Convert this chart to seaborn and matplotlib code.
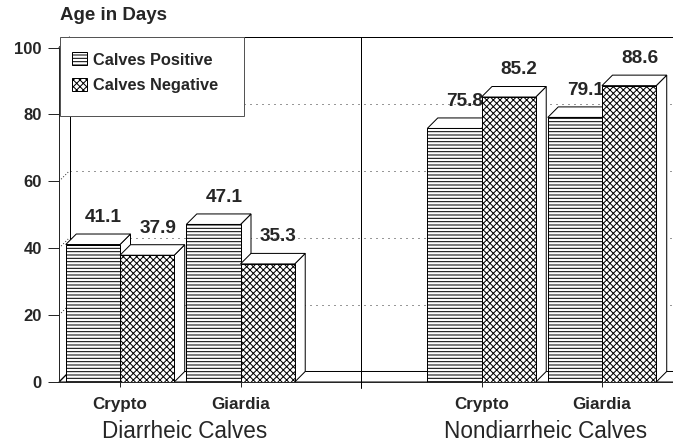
import pandas as pd
import matplotlib
matplotlib.use('Agg')
import matplotlib.pyplot as plt
from matplotlib.patches import Polygon, Patch, Rectangle
import seaborn as sns

# DATA
grupos = ['Diarrheic Calves', 'Nondiarrheic Calves']
parasitas = ['Crypto', 'Giardia']
series = ['Calves Positive', 'Calves Negative']
calves_positive = [41.1, 47.1, 75.8, 79.1]
calves_negative = [37.9, 35.3, 85.2, 88.6]
yticks = [0, 20, 40, 60, 80, 100]

# PIXEL GEOMETRY (dpi 80 keeps the hatch density close to the original)
DPI = 80
W, H = 673, 445


def pt(px):
    return px * 72 / DPI


sns.set_style('white')
plt.rcParams['font.family'] = ['Liberation Sans', 'DejaVu Sans']
plt.rcParams['hatch.linewidth'] = pt(1.0)

rows = []
for i, g in enumerate(grupos):
    for j, p in enumerate(parasitas):
        k = i * 2 + j
        rows.append({'cat': f'{g} {p}', 'serie': series[0], 'idade': calves_positive[k]})
        rows.append({'cat': f'{g} {p}', 'serie': series[1], 'idade': calves_negative[k]})
df = pd.DataFrame(rows)
ordem = [f'{grupos[0]} {p}' for p in parasitas] + [' '] + [f'{grupos[1]} {p}' for p in parasitas]

fig = plt.figure(figsize=(W / DPI, H / DPI), dpi=DPI)
ax = fig.add_axes([59 / W, 63 / H, 614 / W, 345 / H])

sns.barplot(data=df, x='cat', y='idade', hue='serie', order=ordem, hue_order=series,
            palette=['white', 'white'], saturation=1, width=0.9, edgecolor='black',
            linewidth=pt(1), errorbar=None, legend=False, ax=ax)

# AXIS LIMITS
xmin = (59 - 120) / 120.5
xmax = (673 - 120) / 120.5
ppx = 120.5
ppy = 3.34
DX = 10.5 / ppx
DY = 10.5 / ppy
ax.set_xlim(xmin, xmax)
ax.set_ylim(0, 100 + DY)

# 3D BARS
hatches = ['----', 'xxxx']
bars = []
for cont, h in zip(ax.containers, hatches):
    for b in cont:
        b.set_hatch(h)
        bars.append(b)
bars.sort(key=lambda b: b.get_x())

for n, b in enumerate(bars):
    x0, w, h = b.get_x(), b.get_width(), b.get_height()
    z = 3 + n * 0.1
    side = Polygon([(x0 + w, 0), (x0 + w + DX, DY), (x0 + w + DX, h + DY), (x0 + w, h)],
                   closed=True, fc='white', ec='black', lw=pt(1), zorder=z)
    top = Polygon([(x0, h), (x0 + w, h), (x0 + w + DX, h + DY), (x0 + DX, h + DY)],
                  closed=True, fc='white', ec='black', lw=pt(1), zorder=z + 0.01)
    ax.add_patch(side)
    ax.add_patch(top)
    b.set_zorder(z + 0.02)
    ax.text(x0 + w / 2 + DX, h + DY + 8 / ppy, f'{h:.1f}', ha='center', va='bottom',
            fontsize=pt(19), fontweight='bold', zorder=z + 0.05, clip_on=False)

# FLOOR AND WALLS
floor = Polygon([(xmin, 0), (xmax + 1, 0), (xmax + 1 + DX, DY), (xmin + DX, DY)],
                closed=True, fc='white', ec='black', lw=pt(1), zorder=1)
ax.add_patch(floor)
kw = dict(color='black', lw=pt(1), clip_on=False, zorder=1.2)
ax.plot([xmin + DX, xmax], [100 + DY, 100 + DY], **kw)
ax.plot([xmin + DX, xmin + DX], [DY, 100 + DY], **kw)
ax.plot([xmin, xmin + DX], [100, 100 + DY], **kw)
ax.plot([xmin, xmin + DX], [0, DY], **kw)
for v in yticks[1:-1]:
    ax.plot([xmin + DX, xmax], [v + DY, v + DY], color='#333333', lw=pt(1),
            ls=(0, (1, 5)), zorder=1.1)
    ax.plot([xmin, xmin + DX], [v, v + DY], color='#333333', lw=pt(1),
            ls=(0, (1, 2)), zorder=1.1)

# GROUP DIVIDER
ax.plot([2, 2], [-6 / ppy, 100 + DY], color='black', lw=pt(1), clip_on=False, zorder=2)

# AXES STYLE
for s in ['top', 'right']:
    ax.spines[s].set_visible(False)
ax.spines['left'].set_bounds(0, 100)
ax.spines['left'].set_linewidth(pt(1))
ax.spines['bottom'].set_linewidth(pt(1))
ax.spines['bottom'].set_zorder(1.3)
ax.set_yticks(yticks)
ax.set_yticklabels([str(t) for t in yticks])
ax.set_xticks([0, 1, 3, 4])
ax.set_xticklabels(parasitas * 2)
ax.tick_params(axis='y', length=pt(11), width=pt(1), pad=pt(6), labelsize=pt(16.7), direction='out', left=True)
ax.tick_params(axis='x', length=pt(5), width=pt(1), pad=pt(10), labelsize=pt(17), direction='out', bottom=True)
for lbl in ax.get_xticklabels() + ax.get_yticklabels():
    lbl.set_fontweight('bold')
ax.set_xlabel('')
ax.set_ylabel('')

# GROUP LABELS
for cx, g in zip([0.54, 3.535], grupos):
    ax.text(cx, -56 / 345, g, transform=ax.get_xaxis_transform(), ha='center',
            va='baseline', fontsize=pt(22.5))

fig.text(60 / W, 1 - 15 / H, 'Age in Days', ha='left', va='center', fontsize=pt(18.7),
         fontweight='bold')

# LEGEND
ax.add_patch(Rectangle((1 / 614, (382 - 116) / 345), 184 / 614, 79 / 345,
                       transform=ax.transAxes, fc='white', ec='#555555', lw=pt(1),
                       zorder=10, clip_on=False))
handles = [Patch(fc='white', ec='black', hatch=h, lw=pt(1)) for h in hatches]
fsl = 16.4
leg = ax.legend(handles=handles, labels=series, loc='upper left',
                bbox_to_anchor=((72 - 59) / 614, (382 - 52.3) / 345), frameon=False,
                prop={'size': pt(fsl), 'weight': 'bold'}, handlelength=15 / fsl,
                handleheight=14 / fsl, handletextpad=6 / fsl, labelspacing=0.62,
                borderpad=0, borderaxespad=0)
leg.set_zorder(11)

fig.savefig('out.png', dpi=DPI)
